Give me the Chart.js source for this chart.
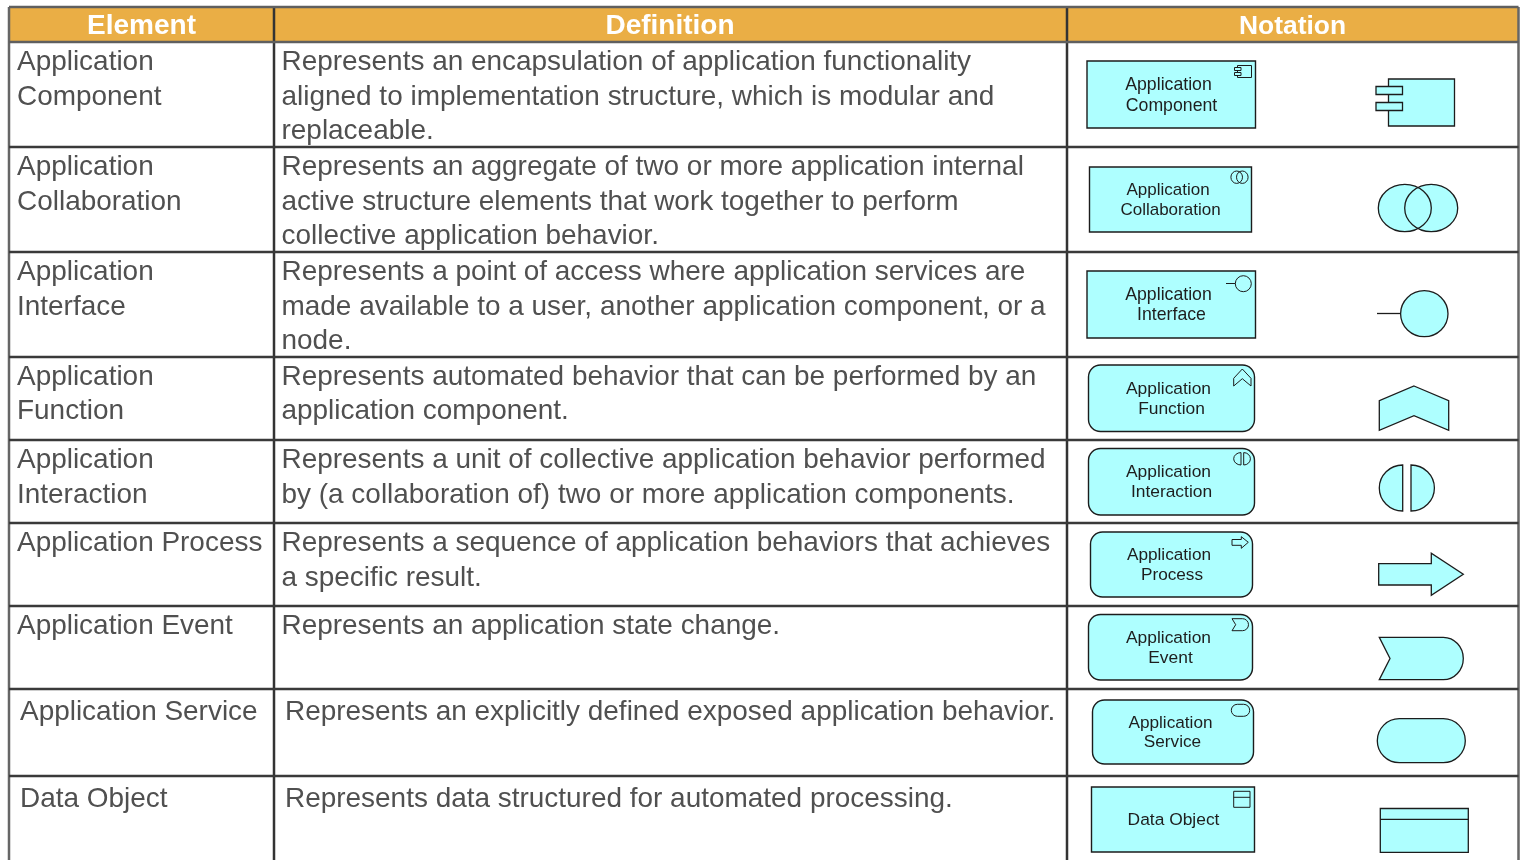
<!DOCTYPE html>
<html>
<head>
<meta charset="utf-8">
<title>Application layer elements</title>
<script src="https://cdn.jsdelivr.net/npm/chart.js@4/dist/chart.umd.min.js"></script>
<style>
  html, body { margin: 0; padding: 0; background: #fff; overflow: hidden; }
  canvas { display: block; }
</style>
</head>
<body>
<canvas id="table" width="1523" height="860"></canvas>
<script>
// table content
var headers = ['Element', 'Definition', 'Notation'];
var elements = [
  ['Application', 'Component'],
  ['Application', 'Collaboration'],
  ['Application', 'Interface'],
  ['Application', 'Function'],
  ['Application', 'Interaction'],
  ['Application Process'],
  ['Application Event'],
  ['Application Service'],
  ['Data Object']
];
var definitions = [
  ['Represents an encapsulation of application functionality', 'aligned to implementation structure, which is modular and', 'replaceable.'],
  ['Represents an aggregate of two or more application internal', 'active structure elements that work together to perform', 'collective application behavior.'],
  ['Represents a point of access where application services are', 'made available to a user, another application component, or a', 'node.'],
  ['Represents automated behavior that can be performed by an', 'application component.'],
  ['Represents a unit of collective application behavior performed', 'by (a collaboration of) two or more application components.'],
  ['Represents a sequence of application behaviors that achieves', 'a specific result.'],
  ['Represents an application state change.'],
  ['Represents an explicitly defined exposed application behavior.'],
  ['Represents data structured for automated processing.']
];
var notationLabels = [
  ['Application', 'Component'],
  ['Application', 'Collaboration'],
  ['Application', 'Interface'],
  ['Application', 'Function'],
  ['Application', 'Interaction'],
  ['Application', 'Process'],
  ['Application', 'Event'],
  ['Application', 'Service'],
  ['Data Object']
];

// table layout, in the units of the two scales
var columnEdges = [9, 274, 1067, 1518.5];
var rowEdges = [7, 42, 147, 252, 357, 440, 523, 606, 689, 776];
var headerCentres = [141.5, 670, 1292.5];
var headerSizes = [28, 28, 26.4];
var firstBaselines = [70, 175, 280, 385, 468, 551, 634, 720, 807];
var lineSteps = [34.6, 34.6, 34.6, 34, 34.6, 34.6, 34.6, 34.6, 34.6];
var elementX = [17, 17, 17, 17, 17, 17, 17, 20, 20];
var definitionX = [281.5, 281.5, 281.5, 281.5, 281.5, 281.5, 281.5, 285, 285];

// notation boxes: left, top, right, bottom, corner radius
var boxes = [
  [1087, 61, 1255.5, 128, 0],
  [1089.5, 167, 1251.5, 232, 0],
  [1087, 271, 1255.5, 338, 0],
  [1088.5, 365, 1254.5, 431.5, 12],
  [1088.5, 448.5, 1254.5, 515, 12],
  [1090.5, 532, 1252.5, 597, 12],
  [1088.5, 614.5, 1252.5, 680, 12],
  [1092.5, 700, 1253.5, 764, 12],
  [1091.5, 787, 1254.5, 852, 0]
];
var labelCentres = [
  [1168.5, 1171.5], [1168, 1170.5], [1168.5, 1171.5], [1168.5, 1171.5], [1168.5, 1171.5],
  [1169, 1172], [1168.5, 1170.5], [1170.5, 1172.5], [1173.5]
];
var labelBaselines = [
  [90, 111], [195, 215], [300, 320], [394, 414], [477, 497],
  [560, 580], [643, 663], [728, 747], [825]
];
var labelSizes = [17.7, 17, 17.7, 17.4, 17.4, 17.2, 17.4, 17.2, 17.4];

var poly = function (pts) { return { kind: 'poly', pts: pts }; };
var rect = function (a, b, c, d) { return poly([[a, b], [c, b], [c, d], [a, d]]); };
var line = function (a, b, c, d) { return { kind: 'line', pts: [[a, b], [c, d]] }; };
var ell = function (cx, cy, rx, ry) { return { kind: 'ell', cx: cx, cy: cy, rx: rx, ry: ry }; };
var half = function (flat, cy, rx, ry, side) { return { kind: 'half', flat: flat, cy: cy, rx: rx, ry: ry, side: side }; };
var flag = function (l, t, b, a, rx, notch) { return { kind: 'flag', l: l, t: t, b: b, a: a, rx: rx, notch: notch }; };
var pill = function (l, t, r, b, rad) { return { kind: 'round', l: l, t: t, r: r, b: b, rad: rad }; };

// small icon in the box corner, then the big symbol on the right
var symbols = [
  [rect(1237.5, 65.5, 1251.5, 77.5), rect(1234.5, 67.5, 1241, 70.5), rect(1234.5, 72.5, 1241, 75.5),
   rect(1388.5, 79, 1454.5, 126), rect(1376, 86.5, 1402.5, 94.5), rect(1376, 102.5, 1402.5, 110.5)],
  [ell(1236.7, 177.2, 5.8, 6.2), ell(1242.3, 177.2, 5.8, 6.2),
   ell(1404.8, 208, 26.5, 23.7), ell(1431.2, 208, 26.5, 23.7)],
  [line(1226, 283.5, 1235.3, 283.5), ell(1243.3, 283.7, 8, 8),
   line(1377, 313.5, 1400.7, 313.5), ell(1424.3, 313.7, 23.7, 23)],
  [poly([[1242.3, 369], [1251, 378.3], [1251, 386], [1242.3, 378.7], [1233.7, 386], [1233.7, 378.3]]),
   poly([[1414, 386], [1448.7, 400.7], [1448.7, 430.3], [1414, 415.7], [1379.3, 430.3], [1379.3, 400.7]])],
  [half(1241, 458.8, 7.3, 6.2, -1), half(1243.7, 458.8, 6.7, 6.2, 1),
   half(1402.7, 488, 23.4, 23, -1), half(1411, 488, 23.4, 23, 1)],
  [poly([[1232, 539.5], [1241.3, 539.5], [1241.3, 536.7], [1248.3, 542.3], [1241.3, 548.3], [1241.3, 545.3], [1232, 545.3]]),
   poly([[1378.7, 563.7], [1431.3, 563.7], [1431.3, 553.3], [1463.3, 574.3], [1431.3, 595.3], [1431.3, 585], [1378.7, 585]])],
  [flag(1232, 618.7, 630.7, 1242.5, 6, 1235.7),
   flag(1379.3, 637.3, 679.7, 1443.3, 20, 1390)],
  [pill(1231.3, 704.3, 1249.7, 716.3, 6),
   pill(1377.3, 718.7, 1465.3, 762.7, 22)],
  [rect(1233.7, 791.3, 1250, 807.3), line(1233.7, 797.3, 1250, 797.3),
   rect(1380.3, 808.5, 1468.3, 852.3), line(1380.3, 819.3, 1468.3, 819.3)]
];

var textGrey = '#505050';
var fontName = '"Liberation Sans", Arial, sans-serif';
var bodySize = 27.95;
var headerFill = '#eaae45';
var symbolFill = '#aeffff';

// grid lines and the header band are plain datasets on the two scales
var datasets = [{
  data: [
    { x: columnEdges[0], y: rowEdges[0] }, { x: columnEdges[3], y: rowEdges[0] },
    { x: columnEdges[3], y: rowEdges[1] }, { x: columnEdges[0], y: rowEdges[1] }
  ],
  showLine: true, fill: 'shape', backgroundColor: headerFill, borderWidth: 0, pointRadius: 0, order: 5
}];
function gridLine(x1, y1, x2, y2, colour) {
  datasets.push({
    data: [{ x: x1, y: y1 }, { x: x2, y: y2 }],
    showLine: true, fill: false, borderColor: colour, borderWidth: 2.5, pointRadius: 0, order: 1
  });
}
rowEdges.forEach(function (y, i) {
  gridLine(columnEdges[0], y, columnEdges[3], y, i < 2 ? '#5f5f5f' : '#3a3a3a');
});
columnEdges.forEach(function (x, i) {
  gridLine(x, rowEdges[0], x, 860, i === 0 || i === 3 ? '#666666' : '#333333');
});

var tablePlugin = {
  id: 'tablePlugin',
  afterDatasetsDraw: function (chart) {
    var ctx = chart.ctx;
    var sx = chart.scales.x, sy = chart.scales.y;
    var X = function (v) { return sx.getPixelForValue(v); };
    var Y = function (v) { return sy.getPixelForValue(v); };

    function trace(s) {
      ctx.beginPath();
      if (s.kind === 'poly' || s.kind === 'line') {
        s.pts.forEach(function (p, i) {
          if (i === 0) ctx.moveTo(X(p[0]), Y(p[1]));
          else ctx.lineTo(X(p[0]), Y(p[1]));
        });
        if (s.kind === 'poly') ctx.closePath();
      } else if (s.kind === 'ell') {
        ctx.ellipse(X(s.cx), Y(s.cy), s.rx, s.ry, 0, 0, Math.PI * 2);
      } else if (s.kind === 'half') {
        ctx.moveTo(X(s.flat), Y(s.cy - s.ry));
        ctx.ellipse(X(s.flat), Y(s.cy), s.rx, s.ry, 0, -Math.PI / 2, Math.PI / 2, s.side < 0);
        ctx.closePath();
      } else if (s.kind === 'flag') {
        ctx.moveTo(X(s.l), Y(s.t));
        ctx.lineTo(X(s.a), Y(s.t));
        ctx.ellipse(X(s.a), Y((s.t + s.b) / 2), s.rx, (s.b - s.t) / 2, 0, -Math.PI / 2, Math.PI / 2);
        ctx.lineTo(X(s.l), Y(s.b));
        ctx.lineTo(X(s.notch), Y((s.t + s.b) / 2));
        ctx.closePath();
      } else if (s.kind === 'round') {
        ctx.roundRect(X(s.l), Y(s.t), X(s.r) - X(s.l), Y(s.b) - Y(s.t), s.rad);
      }
    }
    function fillShape(s) {
      trace(s);
      ctx.fillStyle = symbolFill;
      ctx.fill();
    }
    function strokeShape(s, width) {
      trace(s);
      ctx.lineWidth = width;
      ctx.strokeStyle = '#1c1c1c';
      ctx.stroke();
    }
    function paint(s, width) {
      if (s.kind !== 'line') fillShape(s);
      strokeShape(s, width);
    }

    ctx.save();
    ctx.textBaseline = 'alphabetic';

    // header row
    ctx.fillStyle = '#ffffff';
    ctx.textAlign = 'center';
    headers.forEach(function (h, i) {
      ctx.font = 'bold ' + headerSizes[i] + 'px ' + fontName;
      ctx.fillText(h, X(headerCentres[i]), Y(34));
    });

    // first two columns
    ctx.fillStyle = textGrey;
    ctx.font = bodySize + 'px ' + fontName;
    ctx.textAlign = 'left';
    elements.forEach(function (lines, r) {
      lines.forEach(function (t, n) { ctx.fillText(t, X(elementX[r]), Y(firstBaselines[r] + n * lineSteps[r])); });
    });
    definitions.forEach(function (lines, r) {
      lines.forEach(function (t, n) { ctx.fillText(t, X(definitionX[r]), Y(firstBaselines[r] + n * lineSteps[r])); });
    });

    // notation column; overlapping ellipses keep both outlines, so they get filled first
    boxes.forEach(function (b, r) {
      paint({ kind: 'round', l: b[0], t: b[1], r: b[2], b: b[3], rad: b[4] }, 1.4);
      symbols[r].forEach(function (s) { if (s.kind === 'ell') fillShape(s); });
      symbols[r].forEach(function (s, i) {
        var width = i < symbols[r].length / 2 ? 1 : 1.3;
        if (s.kind === 'ell') strokeShape(s, width);
        else paint(s, width);
      });
      ctx.fillStyle = '#1e1e1e';
      ctx.font = labelSizes[r] + 'px ' + fontName;
      ctx.textAlign = 'center';
      notationLabels[r].forEach(function (t, n) {
        ctx.fillText(t, X(labelCentres[r][n]), Y(labelBaselines[r][n]));
      });
    });
    ctx.restore();
  }
};

new Chart(document.getElementById('table').getContext('2d'), {
  type: 'scatter',
  data: { datasets: datasets },
  plugins: [tablePlugin],
  options: {
    responsive: false,
    animation: false,
    events: [],
    layout: { padding: 0 },
    scales: {
      x: { type: 'linear', display: false, min: 0, max: 1523 },
      y: { type: 'linear', display: false, min: 0, max: 860, reverse: true }
    },
    plugins: { legend: { display: false }, tooltip: { enabled: false }, title: { display: false } }
  }
});
</script>
</body>
</html>
